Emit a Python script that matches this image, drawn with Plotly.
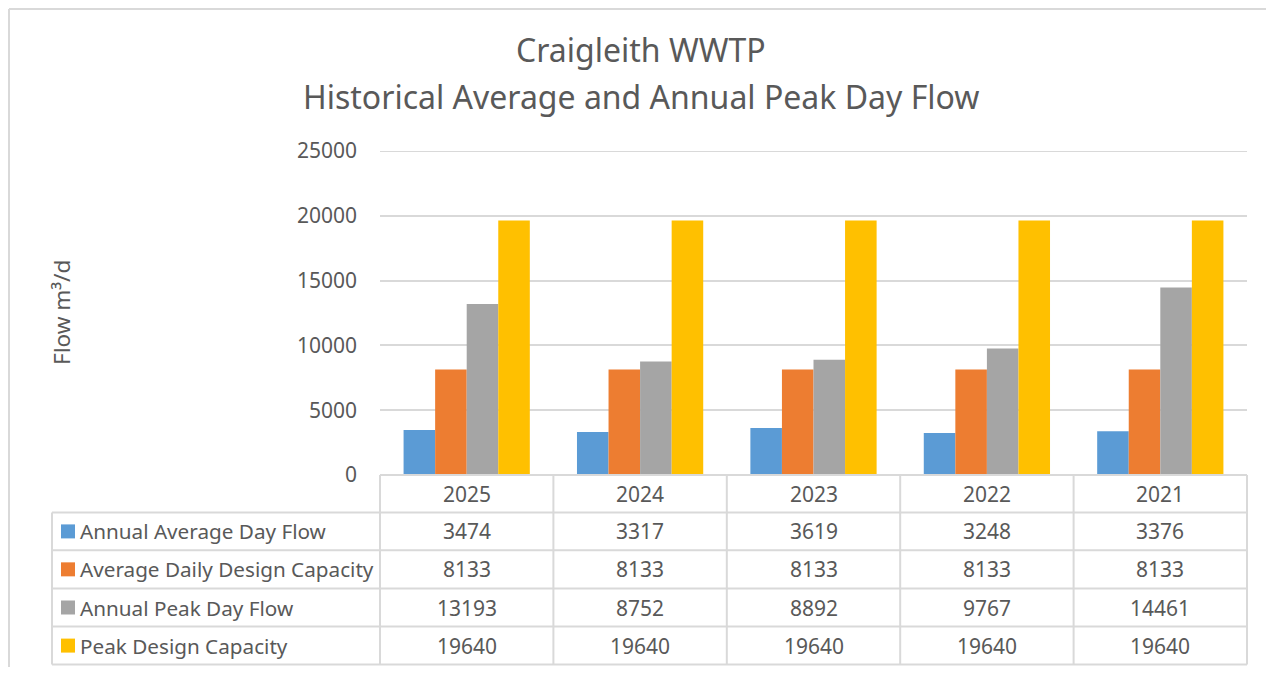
import plotly.graph_objects as go

years = ["2025", "2024", "2023", "2022", "2021"]
series_names = ["Annual Average Day Flow", "Average Daily Design Capacity",
                "Annual Peak Day Flow", "Peak Design Capacity"]
avg_day_flow = [3474, 3317, 3619, 3248, 3376]
avg_design_cap = [8133, 8133, 8133, 8133, 8133]
peak_day_flow = [13193, 8752, 8892, 9767, 14461]
peak_design_cap = [19640, 19640, 19640, 19640, 19640]
y_ticks = [0, 5000, 10000, 15000, 20000, 25000]

series_values = [avg_day_flow, avg_design_cap, peak_day_flow, peak_design_cap]
colors = ["#5B9BD5", "#ED7D31", "#A5A5A5", "#FFC000"]
TXT = "#595959"
GRID = "#D9D9D9"
FONT = "Noto Sans"

OFF = 8  # page body margin
W, H = 1274 - 2 * OFF, 675 - 2 * OFF
L, R, T, B = 380, 1247, 151, 475  # plot area in page pixels


def px(x):
    return (x - L) / (R - L)


def py(y):
    return (B - y) / (B - T)


fig = go.Figure()
for name, vals, c in zip(series_names, series_values, colors):
    fig.add_trace(go.Bar(x=years, y=vals, name=name, marker_color=c,
                         marker_line_width=0, showlegend=False))

shapes = []
annotations = []

# outer chart border (top & left visible)
shapes.append(dict(type="line", xref="paper", yref="paper", x0=px(9), x1=px(1300),
                   y0=py(9), y1=py(9), line=dict(color=GRID, width=2)))
shapes.append(dict(type="line", xref="paper", yref="paper", x0=px(9), x1=px(9),
                   y0=py(9), y1=py(700), line=dict(color=GRID, width=2)))

# top gridline at max tick
shapes.append(dict(type="line", xref="paper", yref="y", x0=0, x1=1,
                   y0=y_ticks[-1], y1=y_ticks[-1], line=dict(color=GRID, width=2)))

# data table geometry
col_edges = [380, 553.4, 726.8, 900.2, 1073.6, 1247]
row_edges = [475, 512.5, 550.3, 588.4, 626.6, 664.6]
left_x = 52

shapes.append(dict(type="line", xref="paper", yref="paper", x0=px(380), x1=px(1247),
                   y0=py(row_edges[0]), y1=py(row_edges[0]), line=dict(color=GRID, width=2)))
for ry in row_edges[1:]:
    shapes.append(dict(type="line", xref="paper", yref="paper", x0=px(left_x), x1=px(1247),
                       y0=py(ry), y1=py(ry), line=dict(color=GRID, width=2)))
for cx in col_edges:
    shapes.append(dict(type="line", xref="paper", yref="paper", x0=px(cx), x1=px(cx),
                       y0=py(row_edges[0]), y1=py(row_edges[-1]), line=dict(color=GRID, width=2)))
shapes.append(dict(type="line", xref="paper", yref="paper", x0=px(left_x), x1=px(left_x),
                   y0=py(row_edges[1]), y1=py(row_edges[-1]), line=dict(color=GRID, width=2)))

NUM_SIZE = 21
LBL_SIZE = 20.7

for i, yr in enumerate(years):
    cx = (col_edges[i] + col_edges[i + 1]) / 2
    cy = (row_edges[0] + row_edges[1]) / 2
    annotations.append(dict(xref="paper", yref="paper", x=px(cx), y=py(cy), text=yr,
                            showarrow=False, font=dict(family=FONT, size=NUM_SIZE, color=TXT),
                            xanchor="center", yanchor="middle"))

for r, (name, vals, c) in enumerate(zip(series_names, series_values, colors)):
    cy = (row_edges[r + 1] + row_edges[r + 2]) / 2
    shapes.append(dict(type="rect", xref="paper", yref="paper", x0=px(61), x1=px(75),
                       y0=py(cy + 7), y1=py(cy - 7), fillcolor=c, line=dict(width=0)))
    annotations.append(dict(xref="paper", yref="paper", x=px(78), y=py(cy), text=name,
                            showarrow=False, font=dict(family=FONT, size=LBL_SIZE, color=TXT),
                            xanchor="left", yanchor="middle"))
    for i, v in enumerate(vals):
        cx = (col_edges[i] + col_edges[i + 1]) / 2
        annotations.append(dict(xref="paper", yref="paper", x=px(cx), y=py(cy), text=str(v),
                                showarrow=False, font=dict(family=FONT, size=NUM_SIZE, color=TXT),
                                xanchor="center", yanchor="middle"))

annotations.append(dict(xref="paper", yref="paper", x=px(61), y=py(313), text="Flow m³/d",
                        showarrow=False, textangle=-90,
                        font=dict(family=FONT, size=22.5, color=TXT),
                        xanchor="center", yanchor="middle"))

annotations.append(dict(xref="paper", yref="paper", x=px(641), y=py(50), text="Craigleith WWTP",
                        showarrow=False, font=dict(family=FONT, size=32, color=TXT),
                        xanchor="center", yanchor="middle"))
annotations.append(dict(xref="paper", yref="paper", x=px(641), y=py(97),
                        text="Historical Average and Annual Peak Day Flow",
                        showarrow=False, font=dict(family=FONT, size=32, color=TXT),
                        xanchor="center", yanchor="middle"))

fig.update_layout(
    width=W, height=H,
    margin=dict(l=L - OFF, r=W - (R - OFF), t=T - OFF, b=H - (B - OFF), pad=0),
    paper_bgcolor="white", plot_bgcolor="white",
    barmode="group", bargap=0.272, bargroupgap=0,
    shapes=shapes, annotations=annotations,
    font=dict(family=FONT, color=TXT),
    xaxis=dict(showticklabels=False, showgrid=False, zeroline=False, showline=False,
               ticks=""),
    yaxis=dict(range=[0, 25000], tickvals=y_ticks, tickformat="d", showgrid=True,
               gridcolor=GRID, gridwidth=2, zeroline=False, showline=False, ticks="",
               tickfont=dict(family=FONT, size=NUM_SIZE, color=TXT), ticklabelstandoff=22),
)

fig.write_html("out.html")
